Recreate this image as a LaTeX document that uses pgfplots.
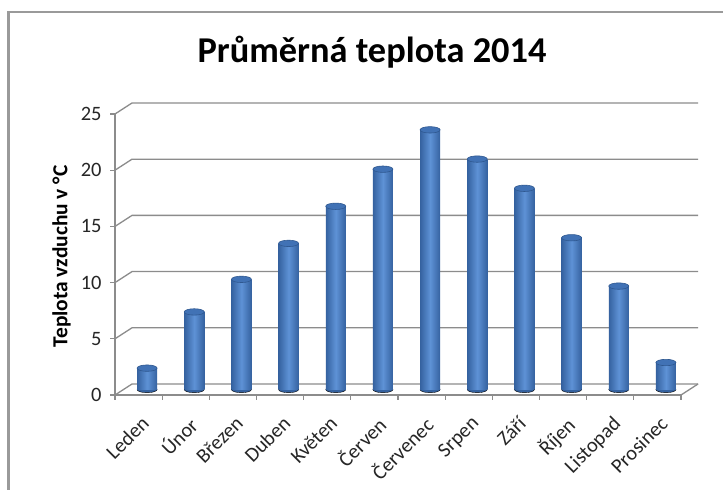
\documentclass[border=0pt]{standalone}
\usepackage{pgfplots}
\pgfplotsset{compat=1.18}
\usepackage{fontspec}
\setmainfont{Carlito}
\definecolor{gridc}{HTML}{8C8C8C}
\definecolor{framec}{HTML}{9A9A9A}
\definecolor{bdark}{HTML}{3562A0}
\definecolor{blight}{HTML}{5E92D6}
\definecolor{btop}{HTML}{4172B5}
\definecolor{bedge}{HTML}{2F5890}
\pgfplotsset{cyl/.style={ybar, bar width=20bp, draw=none, left color=bdark, right color=bdark, middle color=blight}}
\begin{document}
\begin{tikzpicture}[x=1bp,y=1bp]
\useasboundingbox (0,0) rectangle (723,490);
\fill[white] (0,0) rectangle (723,490);
\draw[framec, line width=2.5bp] (8.5,0) -- (8.5,478) -- (723,478);

\begin{axis}[
  at={(115bp,95bp)}, anchor=south west, scale only axis,
  width=566bp, height=281bp,
  xmin=0, xmax=12, ymin=0, ymax=25,
  axis x line*=bottom, axis y line*=left,
  axis line style={gridc, line width=1.3bp, -},
  ytick={0,5,...,25},
  xtick={0,1,...,12}, xticklabels={},
  tick align=outside, major tick length=5bp,
  tick style={gridc, line width=1.2bp},
  extra x ticks={0.5,1.5,...,11.5},
  extra x tick labels={Leden,Únor,Březen,Duben,Květen,Červen,Červenec,Srpen,Září,Říjen,Listopad,Prosinec},
  extra x tick style={major tick length=0pt, tick label style={xshift=1.5bp, yshift=-15bp, rotate=45, anchor=north east}},
  ticklabel style={font=\fontsize{20.5}{22}\selectfont, text=black!85},
  yticklabel style={xshift=-5bp},
  /pgf/number format/assume math mode=true,
  clip=false,
]
\pgfplotsinvokeforeach{0,5,10,15,20,25}{
  \draw[gridc, line width=1.3bp] (axis cs:0,#1) -- ([shift={(17bp,11bp)}]axis cs:0,#1) -- ([shift={(17bp,11bp)}]axis cs:12,#1);
}
\draw[gridc, line width=1.3bp] (axis cs:12,0) -- ([shift={(17bp,11bp)}]axis cs:12,0);
\end{axis}

% bottom ellipses of the cylinders
\begin{axis}[
  at={(123.5bp,100.5bp)}, anchor=south west, scale only axis,
  width=566bp, height=281bp,
  xmin=0, xmax=12, ymin=0, ymax=25,
  hide axis, clip=false,
]
\addplot[only marks, mark=*, mark size=10bp, mark options={yscale=0.32, fill=bdark, draw=none}]
  coordinates {(0.5,0) (1.5,0) (2.5,0) (3.5,0) (4.5,0) (5.5,0) (6.5,0) (7.5,0) (8.5,0) (9.5,0) (10.5,0) (11.5,0)};
\end{axis}

% cylinder bodies and tops
\begin{axis}[
  at={(123.5bp,100.5bp)}, anchor=south west, scale only axis,
  width=566bp, height=281bp,
  xmin=0, xmax=12, ymin=0, ymax=25,
  hide axis, clip=false,
]
\addplot[cyl] coordinates {(0.5,1.9)};
\addplot[cyl] coordinates {(1.5,6.9)};
\addplot[cyl] coordinates {(2.5,9.8)};
\addplot[cyl] coordinates {(3.5,13.0)};
\addplot[cyl] coordinates {(4.5,16.3)};
\addplot[cyl] coordinates {(5.5,19.6)};
\addplot[cyl] coordinates {(6.5,23.1)};
\addplot[cyl] coordinates {(7.5,20.5)};
\addplot[cyl] coordinates {(8.5,17.9)};
\addplot[cyl] coordinates {(9.5,13.5)};
\addplot[cyl] coordinates {(10.5,9.2)};
\addplot[cyl] coordinates {(11.5,2.4)};
\addplot[only marks, mark=*, mark size=10bp, mark options={yscale=0.32, fill=btop, draw=bedge, line width=0.6bp}]
  coordinates {(0.5,1.9) (1.5,6.9) (2.5,9.8) (3.5,13.0) (4.5,16.3) (5.5,19.6) (6.5,23.1) (7.5,20.5) (8.5,17.9) (9.5,13.5) (10.5,9.2) (11.5,2.4)};
\end{axis}

\node[font=\bfseries\fontsize{36.5}{42}\selectfont] at (372,438) {Průměrná teplota 2014};
\node[rotate=90, font=\bfseries\fontsize{21.5}{24}\selectfont] at (61.5,233.5) {Teplota vzduchu v °C};
\end{tikzpicture}
\end{document}
